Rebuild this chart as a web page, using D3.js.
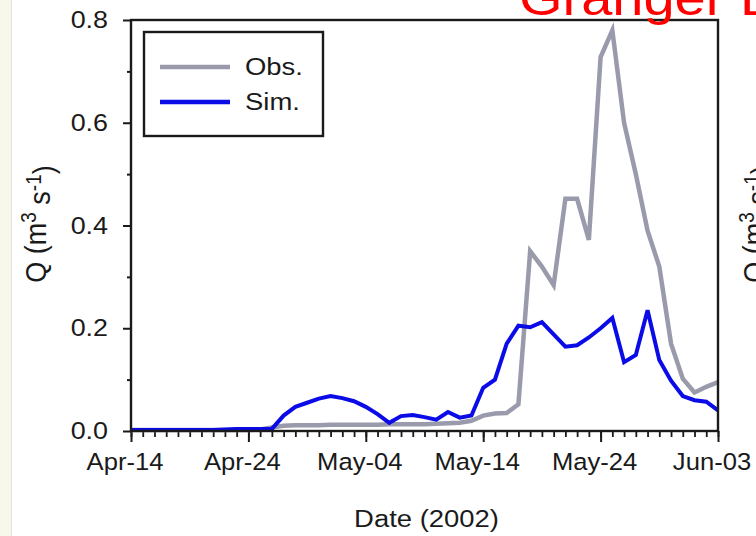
<!DOCTYPE html>
<html>
<head>
<meta charset="utf-8">
<script src="https://cdn.jsdelivr.net/npm/d3@7"></script>
<style>
  html, body { margin: 0; padding: 0; background: #ffffff; }
  svg { display: block; }
  text { font-family: "Liberation Sans", Arial, Helvetica, sans-serif; fill: #1a1a1a; }
</style>
</head>
<body>
<svg id="chart" width="756" height="536"></svg>
<script>
// Daily streamflow, 14 April to 3 June 2002 (one value per day)
const startDate = "2002-04-14";
const obsFlow = [
  0.002, 0.002, 0.002, 0.002, 0.002, 0.002, 0.002, 0.002, 0.002, 0.002,
  0.002, 0.003, 0.007, 0.010, 0.011, 0.011, 0.011, 0.012, 0.012, 0.012,
  0.012, 0.012, 0.013, 0.013, 0.013, 0.013, 0.014, 0.015, 0.016, 0.020,
  0.030, 0.034, 0.035, 0.052, 0.350, 0.320, 0.284, 0.452, 0.452, 0.372,
  0.728, 0.780, 0.600, 0.500, 0.390, 0.320, 0.170, 0.102, 0.075, 0.086,
  0.095
];
const simFlow = [
  0.002, 0.002, 0.002, 0.002, 0.002, 0.002, 0.002, 0.002, 0.003, 0.004,
  0.004, 0.004, 0.004, 0.030, 0.047, 0.055, 0.063, 0.068, 0.064, 0.058,
  0.047, 0.033, 0.016, 0.029, 0.031, 0.027, 0.022, 0.037, 0.026, 0.030,
  0.084, 0.100, 0.170, 0.205, 0.202, 0.212, 0.188, 0.164, 0.167, 0.182,
  0.200, 0.220, 0.134, 0.148, 0.235, 0.138, 0.098, 0.068, 0.060, 0.057,
  0.040
];
const yTicks = [0, 0.2, 0.4, 0.6, 0.8];
const yMinorTicks = [0.1, 0.3, 0.5, 0.7];
const xTickLabels = ["Apr-14", "Apr-24", "May-04", "May-14", "May-24", "Jun-03"];
const seriesNames = ["Obs.", "Sim."];
const seriesColors = ["#9a9aad", "#0b0be8"];

const svg = d3.select("#chart");
const W = 756, H = 536;
const stretch = 1.12;              // horizontal widening of the lettering
const plot = { left: 131, right: 718, top: 20, bottom: 431 };

// left-hand page margin strip
svg.append("rect").attr("x", 0).attr("y", 0).attr("width", 11).attr("height", H).attr("fill", "#f7f7ec");
svg.append("line").attr("x1", 11.5).attr("x2", 11.5).attr("y1", 0).attr("y2", H)
  .attr("stroke", "#e6e6d6").attr("stroke-width", 1);

const t0 = d3.utcParse("%Y-%m-%d")(startDate);
const dates = obsFlow.map((_, i) => d3.utcDay.offset(t0, i));

const x = d3.scaleUtc()
  .domain([dates[0], dates[dates.length - 1]])
  .range([plot.left, plot.right]);
const y = d3.scaleLinear().domain([0, 0.8]).range([plot.bottom, plot.top]);

function widen(sel, k, shift) {
  sel.each(function () {
    const t = d3.select(this);
    const xx = (+t.attr("x") || 0) + (shift || 0);
    t.attr("x", xx / k).attr("transform", `scale(${k},1)`);
  });
}

const axisStroke = "#1a1a1a";
const fmtDate = d3.utcFormat("%b-%d");
const majorDates = dates.filter((d, i) => i % 10 === 0);

// daily minor ticks on the date axis
const xMinor = svg.append("g").attr("transform", `translate(0,${plot.bottom})`)
  .call(d3.axisBottom(x).tickValues(dates).tickSize(6).tickFormat(""));
xMinor.select(".domain").remove();
xMinor.selectAll("line").attr("stroke", axisStroke).attr("stroke-width", 1.8);

const xAxis = svg.append("g").attr("transform", `translate(0,${plot.bottom})`)
  .call(d3.axisBottom(x).tickValues(majorDates).tickSize(11).tickPadding(11)
    .tickFormat((d, i) => xTickLabels[i] !== undefined ? xTickLabels[i] : fmtDate(d)));
xAxis.select(".domain").remove();
xAxis.selectAll("line").attr("stroke", axisStroke).attr("stroke-width", 2);
xAxis.selectAll("text").attr("font-size", 23.5).attr("fill", "#1a1a1a")
  .style("font-family", "'Liberation Sans', Arial, sans-serif")
  .call(widen, 1.09, -6.5);

// value axis
const yMinor = svg.append("g").attr("transform", `translate(${plot.left},0)`)
  .call(d3.axisLeft(y).tickValues(yMinorTicks).tickSize(4).tickFormat(""));
yMinor.select(".domain").remove();
yMinor.selectAll("line").attr("stroke", axisStroke).attr("stroke-width", 2);

const yAxis = svg.append("g").attr("transform", `translate(${plot.left},0)`)
  .call(d3.axisLeft(y).tickValues(yTicks).tickSize(8).tickPadding(15).tickFormat(d3.format(".1f")));
yAxis.select(".domain").remove();
yAxis.selectAll("line").attr("stroke", axisStroke).attr("stroke-width", 2);
yAxis.selectAll("text").attr("font-size", 24).attr("fill", "#1a1a1a")
  .style("font-family", "'Liberation Sans', Arial, sans-serif")
  .call(widen, stretch, 0);

// series lines
const line = d3.line().x((d, i) => x(dates[i])).y(d => y(d));
[obsFlow, simFlow].forEach((vals, k) => {
  svg.append("path").datum(vals)
    .attr("fill", "none")
    .attr("stroke", seriesColors[k])
    .attr("stroke-width", k === 0 ? 4.5 : 4)
    .attr("stroke-linejoin", "miter")
    .attr("d", line);
});

// plot frame
svg.append("rect")
  .attr("x", plot.left).attr("y", plot.top)
  .attr("width", plot.right - plot.left).attr("height", plot.bottom - plot.top)
  .attr("fill", "none").attr("stroke", axisStroke).attr("stroke-width", 2.4);

// legend
const lg = { x: 144, y: 32, w: 179, h: 104 };
svg.append("rect").attr("x", lg.x).attr("y", lg.y).attr("width", lg.w).attr("height", lg.h)
  .attr("fill", "#ffffff").attr("stroke", axisStroke).attr("stroke-width", 2.4);
seriesNames.forEach((name, k) => {
  const ly = 67 + k * 35;
  svg.append("line").attr("x1", 160).attr("x2", 230).attr("y1", ly).attr("y2", ly)
    .attr("stroke", seriesColors[k]).attr("stroke-width", 4.5);
  svg.append("g").attr("transform", `translate(245,${ly + 8})`)
    .append("text").attr("font-size", 24.5).attr("transform", `scale(${stretch},1)`)
    .text(name);
});

// axis titles
function qLabel(g) {
  const t = g.append("text").attr("text-anchor", "middle").attr("font-size", 27)
    .attr("transform", `scale(${stretch},1) rotate(-90)`);
  t.append("tspan").text("Q (m");
  t.append("tspan").attr("dy", "-0.45em").attr("font-size", "0.7em").text("3");
  t.append("tspan").attr("dy", "0.45em").text(" s");
  t.append("tspan").attr("dy", "-0.45em").attr("font-size", "0.7em").text("-1");
  t.append("tspan").attr("dy", "0.45em").text(")");
}
svg.append("g").attr("transform", "translate(46,224)").call(qLabel);
svg.append("g").attr("transform", "translate(764,224)").call(qLabel);

svg.append("g").attr("transform", `translate(${(plot.left + plot.right) / 2 + 2},527)`)
  .append("text").attr("text-anchor", "middle").attr("font-size", 24.5)
  .attr("transform", `scale(${stretch},1)`).text("Date (2002)");

// slide heading
svg.append("g").attr("transform", "translate(519,15)")
  .append("text").attr("font-size", 50).attr("transform", `scale(${stretch},1)`)
  .style("fill", "#ff0000").text("Granger Basin");
</script>
</body>
</html>
